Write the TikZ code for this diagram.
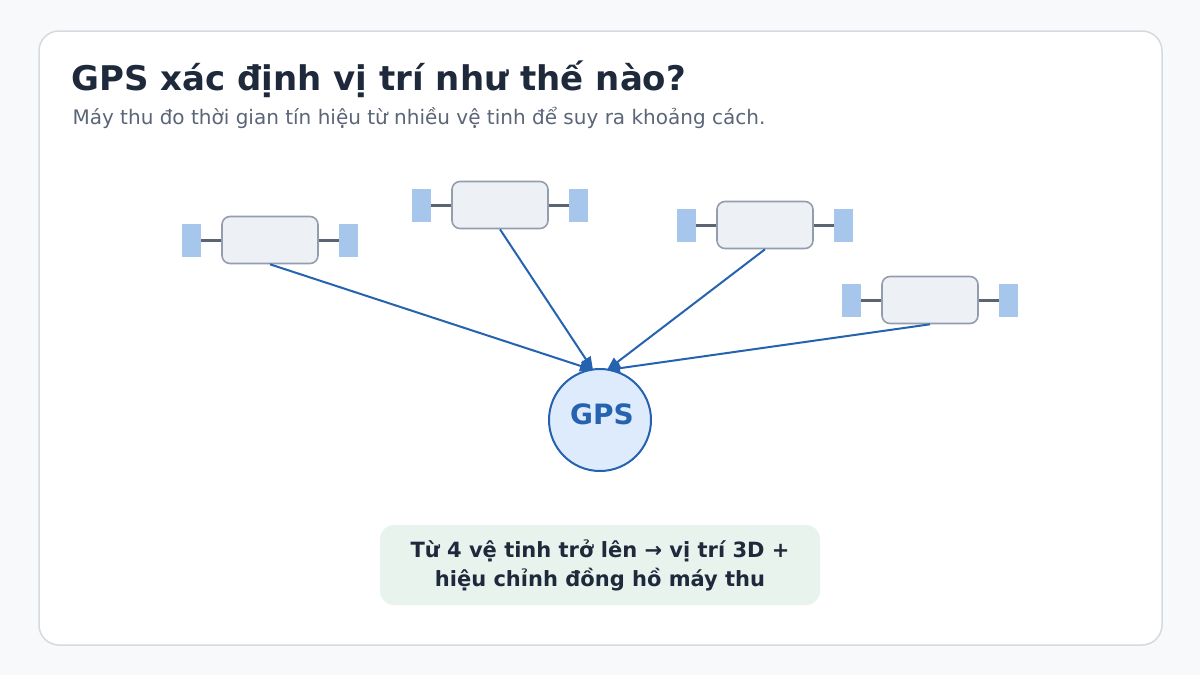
\documentclass[tikz,border=0pt]{standalone}
\usepackage{fontspec}
\setmainfont{DejaVu Sans}
\usetikzlibrary{arrows.meta}
\definecolor{pagebg}{HTML}{F8F9FB}
\definecolor{cardline}{HTML}{D5D9E0}
\definecolor{inkdark}{HTML}{1E293B}
\definecolor{inkgray}{HTML}{5B6578}
\definecolor{satfill}{HTML}{EDF1F6}
\definecolor{satline}{HTML}{949DAE}
\definecolor{panel}{HTML}{A7C6EC}
\definecolor{armline}{HTML}{5B6473}
\definecolor{sigblue}{HTML}{2563B0}
\definecolor{gpsfill}{HTML}{DDEBFC}
\definecolor{notefill}{HTML}{E8F3EE}
\tikzset{
  sat body/.style={draw=satline, line width=1.6pt, fill=satfill, rounded corners=8pt,
    minimum width=96pt, minimum height=47pt},
  sat panel/.style={fill=panel, minimum width=19pt, minimum height=33pt, inner sep=0pt},
  sat arm/.style={draw=armline, line width=3pt},
  signal/.style={draw=sigblue, line width=2pt, -{Triangle[length=13pt,width=11pt]}},
}
\newcommand{\satellite}[3]{% name, x, y
  \node[sat body] (#1) at (#2,#3) {};
  \node[sat panel] (#1 left) at ([xshift=-78.5pt]#1.center) {};
  \node[sat panel] (#1 right) at ([xshift=78.5pt]#1.center) {};
  \draw[sat arm] (#1 left.east) -- (#1.west);
  \draw[sat arm] (#1.east) -- (#1 right.west);
}
\begin{document}
\begin{tikzpicture}[x=1pt,y=-1pt]
  \fill[pagebg] (0,0) rectangle (1200,675);
  \useasboundingbox (0,0) rectangle (1200,675);
  \draw[cardline, fill=white, line width=1.5pt, rounded corners=20pt] (39,31) rectangle (1162,645);

  \node[anchor=west, font=\bfseries\fontsize{34}{40}\selectfont, text=inkdark] (title) at (68,79) {GPS xác định vị trí như thế nào?};
  \node[anchor=west, font=\fontsize{20}{24}\selectfont, text=inkgray] (subtitle) at (69,118) {Máy thu đo thời gian tín hiệu từ nhiều vệ tinh để suy ra khoảng cách.};

  % satellites
  \satellite{sat1}{270}{240}
  \satellite{sat2}{500}{205}
  \satellite{sat3}{765}{225}
  \satellite{sat4}{930}{300}

  % receiver
  \node[circle, draw=sigblue, line width=2pt, fill=gpsfill, minimum size=102pt,
    font=\bfseries\fontsize{28}{32}\selectfont, text=sigblue] (gps) at (600,420) {};
  \node[font=\bfseries\fontsize{28}{32}\selectfont, text=sigblue] (gps label) at (602,414) {GPS};
  \coordinate (in left) at (593,370);
  \coordinate (in right) at (607,370);

  \draw[signal] (sat1.south) -- (in left);
  \draw[signal] (sat2.south) -- (in left);
  \draw[signal] (sat3.south) -- (in right);
  \draw[signal] (sat4.south) -- (in right);

  % note
  \node[fill=notefill, rounded corners=14pt, minimum width=440pt, minimum height=80pt,
    align=center, font=\bfseries\fontsize{21}{29}\selectfont, text=inkdark] (note) at (600,565)
    {Từ 4 vệ tinh trở lên → vị trí 3D +\\hiệu chỉnh đồng hồ máy thu};
\end{tikzpicture}
\end{document}
